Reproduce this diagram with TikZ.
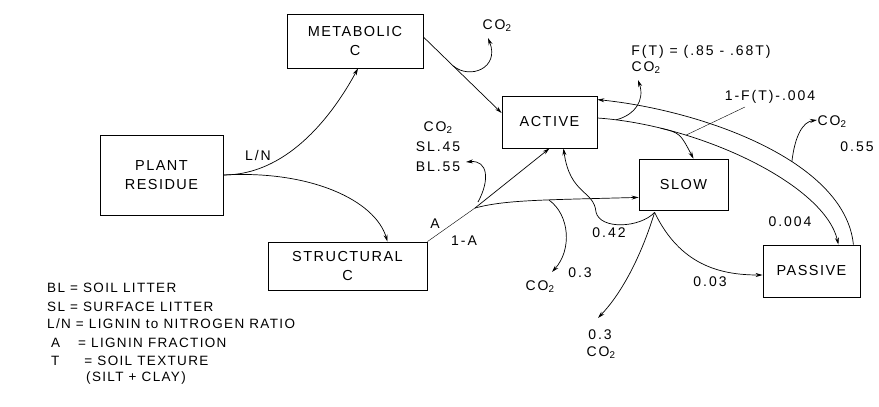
\documentclass[tikz,border=0pt]{standalone}
\usepackage{fontspec}
\setmainfont{Liberation Sans}[LetterSpace=10]
\usetikzlibrary{arrows.meta,calc}

\tikzset{
  pool/.style={rectangle, draw, line width=0.8pt, align=center, inner sep=0pt, font=\fontsize{14.5}{19}\selectfont},
  flow/.style={draw, line width=0.7pt, -{Stealth[length=7pt,width=4pt]}},
  lbl/.style={inner sep=0pt, align=center, font=\fontsize{14}{20}\selectfont\addfontfeature{LetterSpace=14}},
  legend/.style={anchor=west, inner sep=0pt, font=\fontsize{13.5}{15}\selectfont},
}

\begin{document}
\begin{tikzpicture}[x=1pt, y=-1pt]
\useasboundingbox (0,0) rectangle (879,407);

% pools
\node [pool, minimum width=123pt, minimum height=80pt] (plant) at (161.5,175) {PLANT\\RESIDUE};
\node [pool, minimum width=136pt, minimum height=54pt] (metabolic) at (355,41) {METABOLIC\\C};
\node [pool, minimum width=159pt, minimum height=48pt] (structural) at (347.5,266) {STRUCTURAL\\C};
\node [pool, minimum width=95pt, minimum height=52pt] (active) at (549.5,122) {ACTIVE};
\node [pool, minimum width=89pt, minimum height=51pt] (slow) at (683.5,184.5) {SLOW};
\node [pool, minimum width=97pt, minimum height=52pt] (passive) at (811.5,271) {PASSIVE};

% free ends
\coordinate (split) at (475,208);
\coordinate (metco2) at (488,38);
\coordinate (strco2) at (466,162);
\coordinate (strco2b) at (552,272);
\coordinate (actco2) at (638,80);
\coordinate (pasco2) at (817,120);
\coordinate (slowco2) at (598,318);
\coordinate (leadend) at (745,107);
\coordinate (slowout) at ($(slow.south west)+(16,2)$);

% plant residue
\draw [flow] (plant.east) .. controls (285,175) and (330,120) .. ($(metabolic.south)+(3,0)$);
\draw [flow] (plant.east) .. controls (310,170) and (375,200) .. ($(structural.north)+(40,0)$);

% metabolic
\draw [flow] ($(metabolic.east)+(0,-4)$) -- coordinate[pos=0.38] (metloss) ($(active.west)+(0,-9)$);
\draw [flow] (metloss) .. controls (470,80) and (500,68) .. (metco2);

% structural
\draw (structural.north east) -- (split);
\draw [flow] (split) -- (active.south);
\draw [flow] (split) .. controls (505,200) and (540,200) .. coordinate[pos=0.61] (strloss) ($(slow.south west)+(0,-13)$);
\draw [flow] ($(split)+(3,-6)$) .. controls (490,180) and (488,160) .. (strco2);
\draw [flow] (strloss) .. controls (570,215) and (572,250) .. (strco2b);

% active
\draw [flow] ($(active.east)+(0,-4)$) .. controls (700,125) and (825,185) .. coordinate[pos=0.06] (actloss) coordinate[pos=0.2] (toslow) coordinate[pos=0.28] (leadstart) ($(passive.north east)+(-22,0)$);
\draw [flow] (actloss) .. controls (635,115) and (645,100) .. (actco2);
\draw [flow] (toslow) .. controls (680,133) .. ($(slow.north)+(10,0)$);
\draw (leadstart) -- (leadend);

% passive
\draw [flow] ($(passive.north east)+(-7,0)$) .. controls (845,160) and (700,110) .. coordinate[pos=0.39] (pasloss) ($(active.north east)+(0,4)$);
\draw [flow] (pasloss) .. controls (795,135) and (803,122) .. (pasco2);

% slow
\draw [flow] (slowout) .. controls (640,228) and (600,230) .. (596,212) .. controls (594,190) and (570,195) .. ($(active.south)+(14,0)$);
\draw [flow] (slowout) .. controls (640,260) and (620,295) .. (slowco2);
\draw [flow] (slowout) .. controls (680,265) and (720,275) .. ($(passive.west)+(0,4)$);

% labels
\node [lbl] (ln) at (258,155) {L/N};
\node [lbl] (la) at (435,224) {A};
\node [lbl] (l1a) at (464,241) {1-A};
\node [lbl] (lsl) at (438,147) {CO\textsubscript{2}\\SL.45\\BL.55};
\node [lbl] (lmet) at (497,26) {CO\textsubscript{2}};
\node [lbl] (lft) at (701,52) {F(T) = (.85 - .68T)};
\node [lbl] (lact) at (646,68) {CO\textsubscript{2}};
\node [lbl] (llead) at (770,97) {1-F(T)-.004};
\node [lbl] (lpas) at (832,122) {CO\textsubscript{2}};
\node [lbl] (l55) at (857,147) {0.55};
\node [lbl] (l004) at (790,222) {0.004};
\node [lbl] (l42) at (609,233) {0.42};
\node [lbl] (l03) at (710,282) {0.03};
\node [lbl] (lstr3) at (580,273) {0.3};
\node [lbl] (lstrco) at (540,287) {CO\textsubscript{2}};
\node [lbl] (lslow3) at (600,335) {0.3};
\node [lbl] (lslowco) at (601,353) {CO\textsubscript{2}};

% legend
\node [legend] (leg1) at (47,288) {BL = SOIL LITTER};
\node [legend] (leg2) at (47,307) {SL = SURFACE LITTER};
\node [legend] (leg3) at (47,324) {L/N = LIGNIN to NITROGEN RATIO};
\node [legend] (leg4) at (51,343) {A\hspace{18pt}= LIGNIN FRACTION};
\node [legend] (leg5) at (51,361) {T\hspace{25pt}= SOIL TEXTURE};
\node [legend] (leg6) at (86,378) {(SILT + CLAY)};
\end{tikzpicture}
\end{document}
